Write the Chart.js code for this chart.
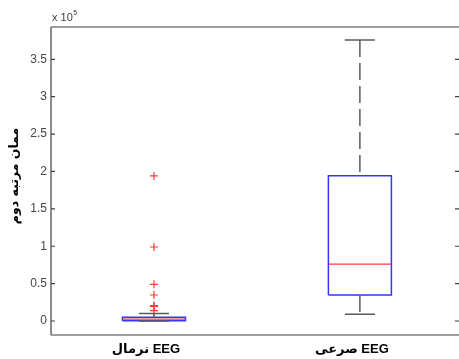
<!DOCTYPE html>
<html><head><meta charset="utf-8">
<script src="https://cdn.jsdelivr.net/npm/chart.js@4.4.1/dist/chart.umd.min.js"></script>
<style>html,body{margin:0;padding:0;background:#fff}canvas{display:block}</style>
</head><body>
<canvas id="c" width="459" height="359"></canvas>
<script>
// ---- data ----
const categories = ['EEG نرمال', 'EEG صرعی'];
const q1 = [400, 34800];
const median = [2400, 76200];
const q3 = [5000, 194300];
const whiskerLow = [0, 9000];
const whiskerHigh = [10000, 375800];
const outliers = [[194000, 99000, 49100, 34800, 20600, 19600, 13800], []];
const yTicks = [0, 50000, 100000, 150000, 200000, 250000, 300000, 350000];
const yTitle = 'ممان مرتبه دوم';
const exponent = 5;

// ---- styles ----
const BOX_HALF = 0.153, CAP_HALF = 0.073;
const BLUE = '#3535ff', RED = '#ff3a3a', GRAY = '#5a5a5a';

const datasets = [];
categories.forEach((c, i) => {
  const x = i + 1;
  datasets.push({data: [{x: x, y: whiskerHigh[i]}, {x: x, y: q3[i]}], borderColor: GRAY, borderWidth: 1.5, borderDash: [17, 6]});
  datasets.push({data: [{x: x, y: q1[i]}, {x: x, y: whiskerLow[i]}], borderColor: GRAY, borderWidth: 1.5, borderDash: [17, 6]});
  datasets.push({data: [{x: x - CAP_HALF, y: whiskerHigh[i]}, {x: x + CAP_HALF, y: whiskerHigh[i]}], borderColor: GRAY, borderWidth: 1.5});
  datasets.push({data: [{x: x - CAP_HALF, y: whiskerLow[i]}, {x: x + CAP_HALF, y: whiskerLow[i]}], borderColor: GRAY, borderWidth: 1.5});
});
categories.forEach((c, i) => {
  const x = i + 1;
  datasets.push({data: [{x: x - BOX_HALF, y: q1[i]}, {x: x - BOX_HALF, y: q3[i]}, {x: x + BOX_HALF, y: q3[i]}, {x: x + BOX_HALF, y: q1[i]}, {x: x - BOX_HALF, y: q1[i]}], borderColor: BLUE, borderWidth: 1.5});
  datasets.push({data: [{x: x - BOX_HALF, y: median[i]}, {x: x + BOX_HALF, y: median[i]}], borderColor: RED, borderWidth: 1.3});
});
categories.forEach((c, i) => {
  datasets.push({data: outliers[i].map(v => ({x: i + 1, y: v})), showLine: false, pointStyle: 'cross', pointRadius: 4, borderColor: RED, borderWidth: 1.2});
});
datasets.forEach(d => { if (d.showLine !== false) { d.showLine = true; d.pointRadius = 0; } d.fill = false; });

const framePlugin = {
  id: 'frame',
  afterDraw(chart) {
    const {ctx, chartArea: a, scales, width} = chart;
    ctx.save();
    ctx.strokeStyle = '#404040';
    ctx.lineWidth = 1.2;
    ctx.beginPath();
    ctx.moveTo(a.left, a.top); ctx.lineTo(a.left, a.bottom);
    ctx.moveTo(a.left, a.top); ctx.lineTo(width, a.top);
    ctx.moveTo(a.left, a.bottom); ctx.lineTo(width, a.bottom);
    yTicks.forEach(v => {
      const y = scales.y.getPixelForValue(v);
      ctx.moveTo(a.left, y); ctx.lineTo(a.left + 4, y);
      ctx.moveTo(width - 4, y); ctx.lineTo(width, y);
    });
    ctx.stroke();
    // exponent label
    ctx.fillStyle = '#404040';
    ctx.textBaseline = 'alphabetic';
    ctx.textAlign = 'left';
    ctx.font = '11px "Liberation Sans", Arial, sans-serif';
    ctx.fillText('x 10', a.left + 1, a.top - 6);
    const w = ctx.measureText('x 10').width;
    ctx.font = '7px "Liberation Sans", Arial, sans-serif';
    ctx.fillText(String(exponent), a.left + 1 + w + 0.5, a.top - 12);
    // y title
    ctx.translate(15, 176);
    ctx.rotate(-Math.PI / 2);
    ctx.textAlign = 'center';
    ctx.textBaseline = 'middle';
    ctx.fillStyle = '#000';
    ctx.font = 'bold 12.5px "DejaVu Sans", sans-serif';
    ctx.fillText(yTitle, 0, 0);
    ctx.restore();
  }
};

new Chart(document.getElementById('c'), {
  type: 'scatter',
  data: {datasets},
  options: {
    responsive: false,
    animation: false,
    layout: {padding: {top: 27, right: 0, left: 0, bottom: 0}},
    plugins: {legend: {display: false}, tooltip: {enabled: false}},
    scales: {
      x: {
        type: 'linear', min: 0.5, max: 2.456,
        grid: {display: false, drawTicks: false},
        border: {display: false},
        afterBuildTicks: s => { s.ticks = categories.map((c, i) => ({value: i + 1})); },
        afterFit: s => { s.height = 24; },
        ticks: {
          padding: 7, labelOffset: -8, color: '#000',
          font: {family: '"Liberation Sans", "DejaVu Sans", sans-serif', size: 13, weight: 'bold'},
          callback: v => '\u202B' + categories[Math.round(v) - 1] + '\u202C'
        }
      },
      y: {
        type: 'linear', min: -18700, max: 393200,
        grid: {display: false, drawTicks: false},
        border: {display: false},
        afterBuildTicks: s => { s.ticks = yTicks.map(v => ({value: v})); },
        afterFit: s => { s.width = 51; },
        ticks: {
          padding: 4, color: '#454545',
          font: {family: '"Liberation Sans", Arial, sans-serif', size: 12},
          callback: v => String(v / Math.pow(10, exponent))
        }
      }
    }
  },
  plugins: [framePlugin]
});
</script>
</body></html>
